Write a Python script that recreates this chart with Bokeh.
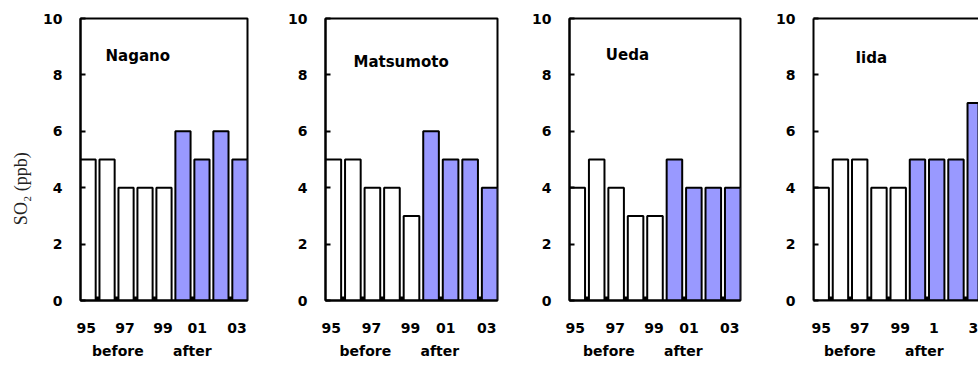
from bokeh.plotting import figure
from bokeh.layouts import row
from bokeh.models import FixedTicker, Range1d, Label, LinearAxis, ColumnDataSource
from bokeh.embed import file_html
from bokeh.resources import INLINE

# Annual mean SO2 (ppb), fiscal years 1995-2003
years = ["95", "96", "97", "98", "99", "00", "01", "02", "03"]
period = ["before"] * 5 + ["after"] * 4
nagano = [5, 5, 4, 4, 4, 6, 5, 6, 5]
matsumoto = [5, 5, 4, 4, 3, 6, 5, 5, 4]
ueda = [4, 5, 4, 3, 3, 5, 4, 4, 4]
iida = [4, 5, 5, 4, 4, 5, 5, 5, 7]

year_labels = ["95", "97", "99", "01", "03"]
year_labels_iida = ["95", "97", "99", "1", "3"]

BEFORE_COLOR = "white"
AFTER_COLOR = "#9999ff"
TICK_FONT = "DejaVu Sans"
NBSP = "\u00a0"


def make_panel(name, values, labels, label_pos, width, border_left,
               border_top, border_bottom, title_xy, ylabel=None,
               x_end=8.4, open_right=False):
    p = figure(width=width, height=372, output_backend="svg",
               toolbar_location=None, x_range=Range1d(-0.4, x_end),
               y_range=Range1d(0, 10), min_border_left=border_left,
               min_border_right=0 if open_right else 3,
               min_border_top=border_top, min_border_bottom=border_bottom)
    p.xgrid.visible = False
    p.ygrid.visible = False
    p.background_fill_color = "white"
    p.border_fill_color = "white"

    src = ColumnDataSource(dict(
        x=list(range(len(values))),
        top=values,
        year=years,
        color=[BEFORE_COLOR if s == "before" else AFTER_COLOR for s in period],
    ))
    p.vbar(x="x", top="top", width=0.8, bottom=0, source=src,
           fill_color="color", line_color="black", line_width=2)

    p.add_layout(Label(x=title_xy[0], y=title_xy[1], text=name,
                       text_font=TICK_FONT, text_font_style="bold",
                       text_font_size="15px", text_baseline="middle",
                       text_color="black"))

    # y axis: inward ticks every 2 ppb
    ya = p.yaxis[0]
    ya.ticker = FixedTicker(ticks=[0, 2, 4, 6, 8, 10], minor_ticks=[])
    ya.major_tick_in = 5
    ya.major_tick_out = 0
    ya.major_tick_line_width = 2
    ya.axis_line_width = 2
    ya.major_label_standoff = 18
    ya.major_label_text_font = TICK_FONT
    ya.major_label_text_font_style = "bold"
    ya.major_label_text_font_size = "14px"
    ya.major_label_text_color = "black"
    if ylabel:
        ya.axis_label = ylabel + NBSP * 13
        ya.axis_label_text_font = "Liberation Serif"
        ya.axis_label_text_font_style = "normal"
        ya.axis_label_text_font_size = "18px"
        ya.axis_label_text_color = "#222222"
        ya.axis_label_standoff = 9

    # x axis: year labels, small marks between bars
    xa = p.xaxis[0]
    xa.ticker = FixedTicker(ticks=label_pos,
                            minor_ticks=[0.5, 1.5, 2.5, 3.5, 5.5, 7.5])
    xa.major_label_overrides = {pos: lab for pos, lab in zip(label_pos, labels)}
    xa.major_tick_in = 0
    xa.major_tick_out = 0
    xa.minor_tick_in = 4
    xa.minor_tick_out = 0
    xa.minor_tick_line_width = 3
    xa.axis_line_width = 2
    xa.major_label_standoff = 22
    xa.major_label_text_font = TICK_FONT
    xa.major_label_text_font_style = "bold"
    xa.major_label_text_font_size = "14px"
    xa.major_label_text_color = "black"
    xa.axis_label = "before" + NBSP * 6 + "after" + NBSP * 5
    xa.axis_label_standoff = 7
    xa.axis_label_text_font = TICK_FONT
    xa.axis_label_text_font_style = "bold"
    xa.axis_label_text_font_size = "14px"
    xa.axis_label_text_color = "black"

    if open_right:
        p.outline_line_color = None
        top = LinearAxis(ticker=FixedTicker(ticks=[]), major_tick_in=0,
                         major_tick_out=0, major_label_text_font_size="0px",
                         axis_line_width=2)
        p.add_layout(top, "above")
    else:
        p.outline_line_color = "black"
        p.outline_line_width = 2
    return p


label_pos = [-0.1, 1.95, 3.95, 5.75, 7.85]
label_pos_iida = [0.0, 2.0, 4.1, 5.85, 7.9]

p1 = make_panel("Nagano", nagano, year_labels, label_pos, 250, 80, 15, 72,
                (0.92, 8.67), ylabel="SO₂ (ppb)")
p2 = make_panel("Matsumoto", matsumoto, year_labels, label_pos, 250, 75, 18, 67,
                (1.03, 8.47))
p3 = make_panel("Ueda", ueda, year_labels, label_pos, 243, 69, 15, 69,
                (1.47, 8.72))
p4 = make_panel("Iida", iida, year_labels_iida, label_pos_iida, 235, 70, 15, 69,
                (1.78, 8.6), x_end=8.17, open_right=True)

layout = row(p1, p2, p3, p4)
open("out.html", "w").write(file_html(layout, INLINE))
